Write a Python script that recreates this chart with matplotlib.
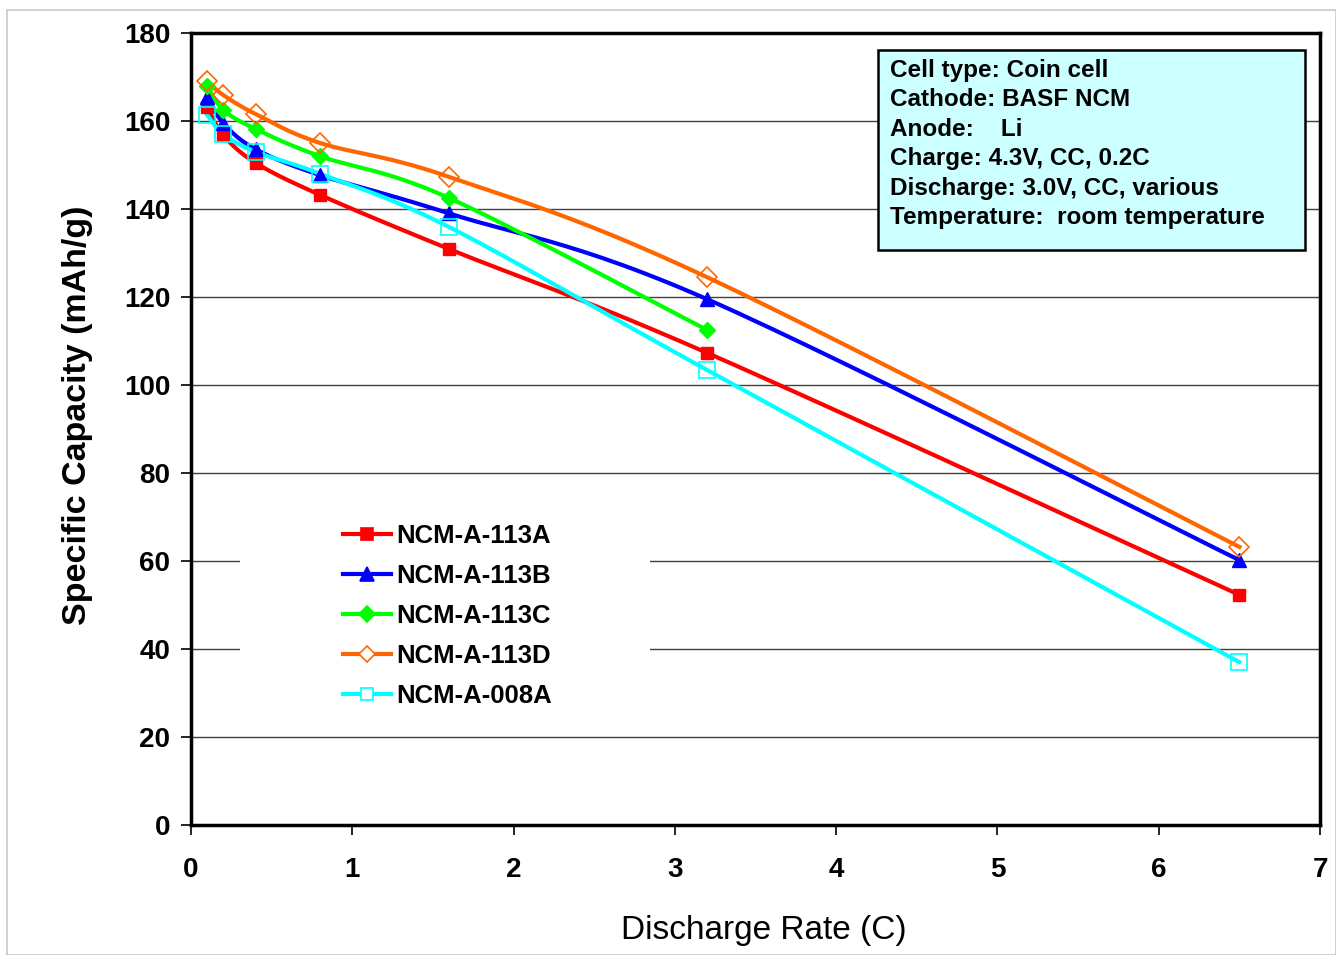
import numpy as np
import matplotlib
matplotlib.use("Agg")
import matplotlib.pyplot as plt
from matplotlib.patches import Rectangle

plt.rcParams['font.family'] = ['Liberation Sans', 'DejaVu Sans']

rates = [0.1, 0.2, 0.4, 0.8, 1.6, 3.2, 6.5]
cap_113A = [163.2, 156.8, 150.5, 143.2, 130.9, 107.3, 52.3]
cap_113B = [165.5, 159.5, 153.6, 147.7, 139.0, 119.5, 60.2]
cap_113C = [168.0, 162.5, 158.2, 152.0, 142.5, 112.5]
cap_113D = [169.0, 165.9, 161.6, 155.0, 147.3, 124.5, 63.2]
cap_008A = [161.4, 157.0, 153.0, 148.0, 135.9, 103.4, 37.0]

series = [
    ("NCM-A-113A", cap_113A, "#FF0000", "s", True),
    ("NCM-A-113B", cap_113B, "#0000FF", "^", True),
    ("NCM-A-113C", cap_113C, "#00FF00", "D", True),
    ("NCM-A-113D", cap_113D, "#FF6600", "D", False),
    ("NCM-A-008A", cap_008A, "#00FFFF", "s", False),
]

XMAX, YMAX = 7.0, 180.0
W, H = 1336, 955
AX_L, AX_R, AX_T, AX_B = 191, 1320, 33, 825


def smooth(xs, ys, n=30):
    # Catmull-Rom smoothing in normalized (screen-like) space
    px = np.array(xs) / XMAX * 1.43
    py = np.array(ys) / YMAX
    P = np.column_stack([px, py])
    P = np.vstack([P[0], P, P[-1]])
    out = []
    for i in range(1, len(P) - 2):
        p0, p1, p2, p3 = P[i - 1], P[i], P[i + 1], P[i + 2]
        t = np.linspace(0, 1, n)[:, None]
        seg = 0.5 * ((2 * p1) + (-p0 + p2) * t + (2 * p0 - 5 * p1 + 4 * p2 - p3) * t ** 2
                     + (-p0 + 3 * p1 - 3 * p2 + p3) * t ** 3)
        out.append(seg if i == len(P) - 3 else seg[:-1])
    out = np.vstack(out)
    return out[:, 0] / 1.43 * XMAX, out[:, 1] * YMAX


def axfrac(px, py):
    return (px - AX_L) / (AX_R - AX_L), (AX_B - py) / (AX_B - AX_T)


fig = plt.figure(figsize=(W / 100, H / 100), dpi=100)
fig.patch.set_facecolor('white')
fig.add_artist(Rectangle((7 / W, 0.0), 1 - 7 / W, 1 - 10 / H, transform=fig.transFigure,
                         fill=False, edgecolor='#C8C8C8', linewidth=1.2))

ax = fig.add_axes([AX_L / W, 1 - AX_B / H, (AX_R - AX_L) / W, (AX_B - AX_T) / H])
ax.set_xlim(0, XMAX)
ax.set_ylim(0, YMAX)
ax.set_xticks(range(0, 8))
ax.set_yticks(range(0, 181, 20))
ax.yaxis.grid(True, color='#404040', linewidth=1.0)
ax.set_axisbelow(True)
for s in ax.spines.values():
    s.set_linewidth(2.5)
    s.set_color('black')
ax.tick_params(axis='both', direction='out', length=7, width=1.2, labelsize=20)
ax.tick_params(axis='x', pad=16)
ax.tick_params(axis='y', pad=8)
for lab in ax.get_xticklabels() + ax.get_yticklabels():
    lab.set_fontweight('bold')

# white legend area
lx0, ly0 = axfrac(240, 716)
lx1, ly1 = axfrac(650, 512)
ax.add_patch(Rectangle((lx0, ly0), lx1 - lx0, ly1 - ly0, transform=ax.transAxes,
                       facecolor='white', edgecolor='none', zorder=2))

handles = []
for name, ys, col, mk, filled in series:
    xs = rates[:len(ys)]
    sx, sy = smooth(xs, ys)
    ax.plot(sx, sy, color=col, linewidth=3, zorder=3)
    ms = 9 if mk == 's' else (10 if mk == '^' else 8)
    if filled:
        ax.plot(xs, ys, linestyle='none', marker=mk, markersize=ms, color=col,
                markeredgecolor=col, zorder=4)
    else:
        ax.plot(xs, ys, linestyle='none', marker=mk, markersize=ms + 2, markerfacecolor='none',
                markeredgecolor=col, markeredgewidth=1.2, zorder=4)
    h, = ax.plot([], [], color=col, linewidth=3, marker=mk, markersize=ms,
                 markerfacecolor=(col if filled else 'white'), markeredgecolor=col,
                 markeredgewidth=1.2)
    handles.append((h, name))

bx, by = axfrac(338, 519)
leg = ax.legend([h for h, _ in handles], [n for _, n in handles], loc='upper left',
                bbox_to_anchor=(bx, by), frameon=False,
                prop={'family': 'Liberation Sans', 'weight': 'bold', 'size': 18.5},
                handlelength=1.85, handletextpad=0.22, labelspacing=0.62, borderpad=0.2,
                borderaxespad=0)
leg.set_zorder(5)

ax.set_xlabel("Discharge Rate (C)", fontsize=24, fontweight='normal')
ax.xaxis.set_label_coords((764 - AX_L) / (AX_R - AX_L), -(930 - AX_B) / (AX_B - AX_T))
ax.xaxis.label.set_va('center')
ax.set_ylabel("Specific Capacity (mAh/g)", fontsize=24.5, fontweight='bold')
ax.yaxis.set_label_coords(-(AX_L - 78) / (AX_R - AX_L), (AX_B - 415) / (AX_B - AX_T))
ax.yaxis.label.set_va('center')

# info box
rx0, ry0 = axfrac(878, 250)
rx1, ry1 = axfrac(1305, 50)
ax.add_patch(Rectangle((rx0, ry0), rx1 - rx0, ry1 - ry0, transform=ax.transAxes,
                       facecolor='#CCFFFF', edgecolor='black', linewidth=1.8, zorder=6))
info = ("Cell type: Coin cell\nCathode: BASF NCM\nAnode:    Li\nCharge: 4.3V, CC, 0.2C\n"
        "Discharge: 3.0V, CC, various\nTemperature:  room temperature")
tx, ty = axfrac(890, 59)
ax.text(tx, ty, info, transform=ax.transAxes, ha='left', va='top',
        fontsize=17.5, fontweight='bold', linespacing=1.36, zorder=7)

fig.savefig("out.png", dpi=100)
